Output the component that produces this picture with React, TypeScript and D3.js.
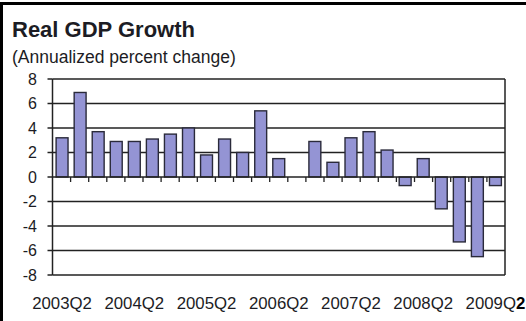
import React from "react";
import * as d3 from "d3";

const quarters = [
  "2003Q2","2003Q3","2003Q4","2004Q1","2004Q2","2004Q3","2004Q4",
  "2005Q1","2005Q2","2005Q3","2005Q4","2006Q1","2006Q2","2006Q3","2006Q4",
  "2007Q1","2007Q2","2007Q3","2007Q4","2008Q1","2008Q2","2008Q3","2008Q4",
  "2009Q1","2009Q2",
];
const growth = [
  3.2, 6.9, 3.7, 2.9, 2.9, 3.1, 3.5,
  4.0, 1.8, 3.1, 2.0, 5.4, 1.5, 0.0, 2.9,
  1.2, 3.2, 3.7, 2.2, -0.7, 1.5, -2.6, -5.3,
  -6.5, -0.7,
];
const yTicks = [8, 6, 4, 2, 0, -2, -4, -6, -8];
const xLabels = ["2003Q2", "2004Q2", "2005Q2", "2006Q2", "2007Q2", "2008Q2", "2009Q2"];
const title = "Real GDP Growth";
const subtitle = "(Annualized percent change)";

const W = 526, H = 321;
const left = 52.5, right = 505, top = 79, bottom = 275;
const font = "'Liberation Sans', Arial, sans-serif";
const ink = "#1c1c24";

export default function App() {
  const x = d3.scaleBand<string>().domain(quarters).range([left, right]).paddingInner(0.34).paddingOuter(0.2);
  const y = d3.scaleLinear().domain([-8, 8]).range([bottom, top]);
  const slot = (right - left) / quarters.length;
  const y0 = y(0);

  return (
    <svg width={W} height={H} style={{ position: "absolute", left: 0, top: 0, background: "#fff" }}>
      <rect x={0} y={0} width={W} height={H} fill="#fff" />
      {/* outer frame */}
      <path d={`M1.5,${H + 5} L1.5,3.5 L${W + 5},3.5`} fill="none" stroke="#000" strokeWidth={3} />

      <text x={12} y={36.5} fontFamily={font} fontWeight="bold" fontSize={22} fill={ink}>{title}</text>
      <text x={12} y={63} fontFamily={font} fontSize={17.5} fill={ink}>{subtitle}</text>

      {/* gridlines */}
      {yTicks.filter((t) => t !== 0).map((t) => (
        <line key={"g" + t} x1={left} x2={right} y1={y(t)} y2={y(t)} stroke="#222" strokeWidth={1.5} />
      ))}
      <line x1={right} x2={right} y1={top} y2={bottom} stroke="#222" strokeWidth={1.5} />

      {/* bars */}
      {quarters.map((q, i) => {
        const v = growth[i];
        if (v === 0) return null;
        const yt = Math.min(y(v), y0);
        const h = Math.abs(y(v) - y0);
        return (
          <rect key={q} x={x(q)!} y={yt} width={x.bandwidth()} height={h}
            fill="#9494d4" stroke="#2a2a3a" strokeWidth={1.4} />
        );
      })}

      {/* zero line and category ticks */}
      <line x1={left} x2={right} y1={y0} y2={y0} stroke="#222" strokeWidth={1.5} />
      {quarters.slice(1).map((q, i) => {
        const xx = left + (i + 1) * slot;
        return <line key={"t" + q} x1={xx} x2={xx} y1={y0} y2={y0 + 5} stroke="#222" strokeWidth={1.3} />;
      })}

      {/* y axis */}
      <line x1={left} x2={left} y1={top} y2={bottom} stroke="#222" strokeWidth={1.5} />
      {yTicks.map((t) => (
        <g key={"y" + t}>
          <line x1={left - 5} x2={left} y1={y(t)} y2={y(t)} stroke="#222" strokeWidth={1.5} />
          <text x={37} y={y(t) + 5.8} textAnchor="end" fontFamily={font} fontSize={16} fill={ink}>{t}</text>
        </g>
      ))}

      {/* x labels */}
      {xLabels.map((lab, k) => {
        const cx = x(lab)! + x.bandwidth() / 2;
        const isLast = k === xLabels.length - 1;
        return (
          <text key={lab} x={cx} y={309} textAnchor="middle" fontFamily={font} fontSize={16.8} fill={ink}>
            {isLast ? (
              <>
                {lab.slice(0, -1)}
                <tspan fontWeight="bold" fill="#000">{lab.slice(-1)}</tspan>
              </>
            ) : lab}
          </text>
        );
      })}
    </svg>
  );
}
